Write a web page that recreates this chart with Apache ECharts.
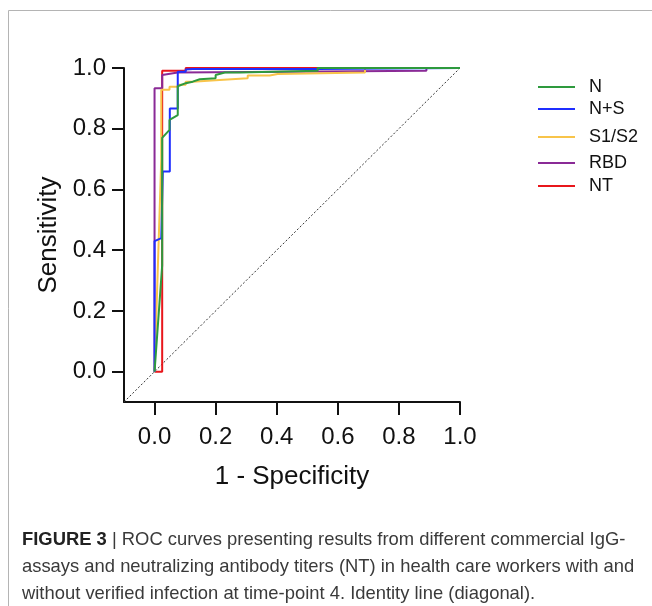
<!DOCTYPE html>
<html lang="en">
<head>
  <meta charset="UTF-8">
  <title>ROC curves</title>
  <style>
    html, body { margin: 0; padding: 0; background: #fff; }
    #main { width: 652px; height: 606px; }
  </style>
</head>
<body>
  <div id="main"></div>
  <script src="https://cdn.jsdelivr.net/npm/echarts@6/dist/echarts.min.js"></script>
  <script>
    var chart = echarts.init(document.getElementById('main'));

    // axis ticks
    var xTicks = [0, 0.2, 0.4, 0.6, 0.8, 1.0];
    var yTicks = [0, 0.2, 0.4, 0.6, 0.8, 1.0];

    // ROC points [1 - specificity, sensitivity]
    var rocN = [[0, 0], [0.025, 0.35], [0.025, 0.77], [0.049, 0.796], [0.049, 0.829], [0.076, 0.845],
      [0.076, 0.94], [0.102, 0.95], [0.102, 0.955], [0.125, 0.955], [0.125, 0.96], [0.148, 0.963],
      [0.2, 0.966], [0.2, 0.977], [0.23, 0.985], [0.279, 0.985], [0.279, 0.991], [0.534, 0.991],
      [0.534, 1], [1, 1]];
    var rocNS = [[0, 0], [0, 0.43], [0.022, 0.44], [0.027, 0.44], [0.027, 0.659], [0.05, 0.659],
      [0.05, 0.867], [0.076, 0.867], [0.076, 0.988], [0.102, 0.988], [0.102, 0.995], [0.125, 0.997],
      [0.534, 0.997], [0.534, 1], [1, 1]];
    var rocS1S2 = [[0, 0], [0.022, 0.7], [0.022, 0.928], [0.049, 0.928], [0.049, 0.938], [0.076, 0.938],
      [0.076, 0.945], [0.102, 0.945], [0.102, 0.955], [0.125, 0.955], [0.125, 0.96], [0.2, 0.96],
      [0.2, 0.966], [0.305, 0.966], [0.305, 0.975], [0.377, 0.975], [0.377, 0.98], [0.403, 0.98],
      [0.403, 0.985], [0.689, 0.985], [0.689, 1], [1, 1]];
    var rocRBD = [[0, 0], [0, 0.933], [0.025, 0.933], [0.025, 0.977], [0.076, 0.985], [0.076, 0.991],
      [0.89, 0.991], [0.89, 1], [1, 1]];
    var rocNT = [[0, 0], [0.025, 0], [0.025, 0.991], [0.102, 0.991], [0.102, 1], [1, 1]];
    var identity = [[-0.1, -0.1], [1, 1]];

    var names = ['N', 'N+S', 'S1/S2', 'RBD', 'NT'];
    var colors = ['#2e9a3e', '#1f2eff', '#f8c44a', '#8a2a96', '#e8161b'];
    var curves = [rocN, rocNS, rocS1S2, rocRBD, rocNT];
    // draw order bottom -> top
    var drawOrder = [4, 3, 2, 1, 0];
    var legendTops = [72, 94, 122, 148, 171];

    var font = '"Liberation Sans", Arial, Helvetica, sans-serif';

    var series = drawOrder.map(function (i) {
      return {
        name: names[i],
        type: 'line',
        data: curves[i],
        symbol: 'none',
        silent: true,
        color: colors[i],
        lineStyle: { color: colors[i], width: 2 }
      };
    });
    series.push({
      name: 'identity',
      type: 'line',
      data: identity,
      symbol: 'none',
      silent: true,
      z: 1,
      lineStyle: { color: '#333', width: 1, type: [2, 2] }
    });

    var legends = names.map(function (n, i) {
      return {
        data: [n],
        left: 533,
        top: legendTops[i],
        icon: 'rect',
        itemWidth: 37,
        itemHeight: 2,
        selectedMode: false,
        textStyle: { fontFamily: font, fontSize: 18, color: '#111', lineHeight: 20, padding: [0, 0, 0, 9] }
      };
    });

    var axisCommon = {
      type: 'value',
      min: -0.1,
      max: 1.0,
      nameLocation: 'middle',
      nameTextStyle: { fontFamily: font, fontSize: 26, color: '#111' },
      axisLine: { show: true, onZero: false, lineStyle: { color: '#111', width: 2 } },
      splitLine: { show: false }
    };

    var option = {
      animation: false,
      backgroundColor: '#fff',
      grid: { left: 124, right: 192, top: 68, bottom: 204 },
      legend: legends,
      xAxis: Object.assign({}, axisCommon, {
        name: '1 - Specificity',
        nameGap: 62,
        axisTick: { show: true, length: 13, customValues: xTicks, lineStyle: { color: '#111', width: 2 } },
        axisLabel: {
          customValues: xTicks, margin: 23, fontFamily: font, fontSize: 24, color: '#111',
          formatter: function (v) { return v.toFixed(1); }
        }
      }),
      yAxis: Object.assign({}, axisCommon, {
        name: 'Sensitivity',
        nameGap: 62,
        axisTick: { show: true, length: 12, customValues: yTicks, lineStyle: { color: '#111', width: 2 } },
        axisLabel: {
          customValues: yTicks, margin: 18, fontFamily: font, fontSize: 24, color: '#111',
          formatter: function (v) { return v.toFixed(1); }
        }
      }),
      series: series,
      graphic: [
        {
          type: 'rect',
          shape: { x: 8.5, y: 10.5, width: 700, height: 700 },
          style: { fill: 'none', stroke: '#b4b4b4', lineWidth: 1 },
          silent: true
        },
        {
          type: 'text',
          left: 22,
          top: 526,
          silent: true,
          style: {
            text: '{b|FIGURE 3} | ROC curves presenting results from different commercial IgG-\n' +
              'assays and neutralizing antibody titers (NT) in health care workers with and\n' +
              'without verified infection at time-point 4. Identity line (diagonal).',
            fontFamily: font,
            fontSize: 18.4,
            lineHeight: 27,
            fill: '#3a3a3a',
            rich: {
              b: { fontFamily: font, fontSize: 18.4, fontWeight: 'bold', fill: '#222', lineHeight: 27 }
            }
          }
        }
      ]
    };

    chart.setOption(option);
  </script>
</body>
</html>
